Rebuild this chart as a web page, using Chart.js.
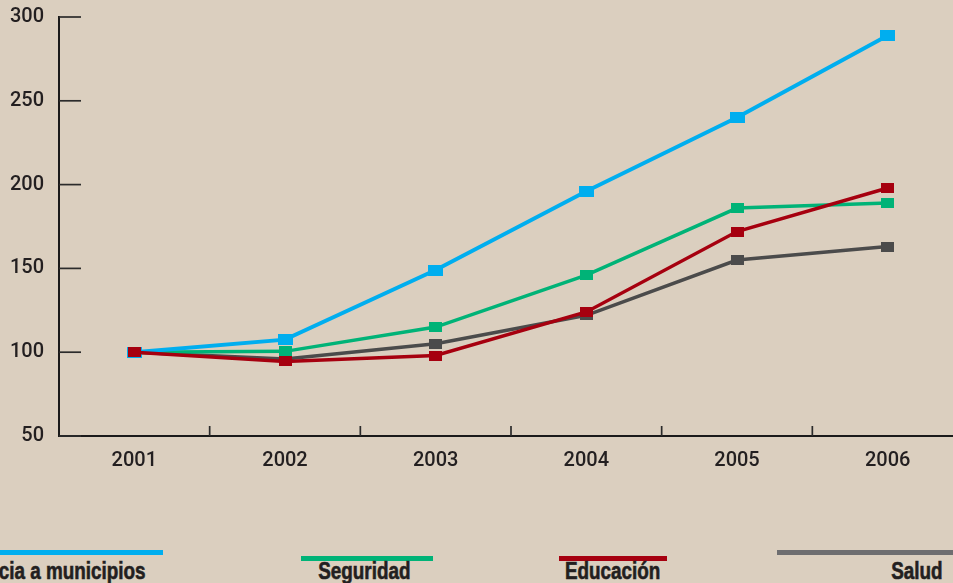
<!DOCTYPE html>
<html lang="es">
<head>
<meta charset="utf-8">
<script src="https://cdn.jsdelivr.net/npm/chart.js@4.4.1/dist/chart.umd.min.js"></script>
<style>
  html, body {
    margin: 0;
    padding: 0;
    width: 953px;
    height: 583px;
    overflow: hidden;
    background: #dbcfbf;
  }
  #wrap {
    position: absolute;
    left: 0;
    top: 0;
    width: 973px;
    height: 480px;
  }
  .key-line {
    position: absolute;
    height: 5px;
  }
  .key-label {
    position: absolute;
    white-space: nowrap;
    font-family: "Liberation Sans", Arial, sans-serif;
    font-weight: bold;
    font-size: 23px;
    line-height: 1;
    color: #231f20;
    -webkit-text-stroke: 0.6px #231f20;
    transform: scaleX(0.82);
    transform-origin: right top;
  }
</style>
</head>
<body>
<div id="wrap"><canvas id="chart"></canvas></div>
<div id="key"></div>

<script>
const years = ["2001", "2002", "2003", "2004", "2005", "2006"];
const yTicks = [50, 100, 150, 200, 250, 300];

const seriesNames = ["Transferencia a municipios", "Seguridad", "Educación", "Salud"];
const transferencias = [100, 107.5, 149, 196, 240, 289];
const seguridad = [100, 100.5, 115, 146, 186, 189];
const educacion = [100, 94.5, 98, 124, 172, 198];
const salud = [100, 96, 105, 122, 155, 163];

const lineColors = ["#00aeef", "#00b377", "#a6000f", "#4b4b4b"];
const keyColors = ["#00aeef", "#00b377", "#a6000f", "#6e6e70"];

// legend placement under the plot: line box and right edge of label
const keyLayout = [
  { x0: -10, x1: 163, y: 550, labelRight: 146 },
  { x0: 301, x1: 433, y: 556, labelRight: 410 },
  { x0: 559, x1: 667, y: 556, labelRight: 660 },
  { x0: 777, x1: 960, y: 550, labelRight: 943 }
];

// flat rectangular markers
function marker(color, w, h) {
  const c = document.createElement("canvas");
  c.width = w;
  c.height = h;
  const g = c.getContext("2d");
  g.fillStyle = color;
  g.fillRect(0, 0, w, h);
  return c;
}

function makeSet(i, values, order, width, mw, mh) {
  return {
    label: seriesNames[i],
    data: values,
    borderColor: lineColors[i],
    backgroundColor: lineColors[i],
    borderWidth: width,
    pointStyle: marker(lineColors[i], mw, mh),
    pointRadius: 6,
    tension: 0,
    fill: false,
    order: order
  };
}

// inward tick marks on both axes
const innerTicks = {
  id: "innerTicks",
  beforeDatasetsDraw(chart) {
    const { ctx, chartArea, scales } = chart;
    ctx.save();
    ctx.strokeStyle = "#2b2b2b";
    ctx.lineWidth = 1.7;
    scales.y.ticks.forEach((t) => {
      const py = scales.y.getPixelForValue(t.value);
      ctx.beginPath();
      ctx.moveTo(chartArea.left, py);
      ctx.lineTo(chartArea.left + 22, py);
      ctx.stroke();
    });
    for (let i = 0; i < years.length - 1; i++) {
      const px = (scales.x.getPixelForTick(i) + scales.x.getPixelForTick(i + 1)) / 2;
      ctx.beginPath();
      ctx.moveTo(px, chartArea.bottom);
      ctx.lineTo(px, chartArea.bottom - 10);
      ctx.stroke();
    }
    ctx.restore();
  }
};

const tickFont = { family: "Roboto, 'Open Sans', sans-serif", size: 20, weight: "500" };

new Chart(document.getElementById("chart"), {
  type: "line",
  data: {
    labels: years,
    datasets: [
      makeSet(0, transferencias, 2, 4, 15, 11),
      makeSet(1, seguridad, 3, 3.5, 13, 10),
      makeSet(2, educacion, 1, 3.5, 13, 10),
      makeSet(3, salud, 4, 3.5, 13, 10)
    ]
  },
  options: {
    responsive: true,
    maintainAspectRatio: false,
    animation: false,
    layout: { padding: { top: 17, right: 3, left: 0, bottom: 0 } },
    plugins: {
      legend: { display: false },
      tooltip: { enabled: false }
    },
    scales: {
      x: {
        offset: true,
        grid: { display: false, drawTicks: false },
        border: { display: true, color: "#1a1a1a", width: 2 },
        ticks: { color: "#231f20", padding: 13, font: tickFont },
        afterFit(scale) {
          scale.height = 44;
          scale.paddingLeft = 0;
          scale.paddingRight = 0;
        }
      },
      y: {
        min: 50,
        max: 300,
        afterBuildTicks(scale) {
          scale.ticks = yTicks.map((v) => ({ value: v }));
        },
        grid: { display: false, drawTicks: false },
        border: { display: true, color: "#1a1a1a", width: 2 },
        ticks: { color: "#231f20", padding: 15, font: tickFont },
        afterFit(scale) {
          scale.width = 59;
          scale.paddingTop = 0;
          scale.paddingBottom = 0;
        }
      }
    }
  },
  plugins: [innerTicks]
});

// legend drawn as plain elements
const key = document.getElementById("key");
seriesNames.forEach((name, i) => {
  const k = keyLayout[i];
  const line = document.createElement("div");
  line.className = "key-line";
  line.style.left = k.x0 + "px";
  line.style.width = (k.x1 - k.x0) + "px";
  line.style.top = k.y + "px";
  line.style.background = keyColors[i];
  key.appendChild(line);

  const label = document.createElement("div");
  label.className = "key-label";
  label.textContent = name;
  label.style.right = (953 - k.labelRight) + "px";
  label.style.top = "560px";
  key.appendChild(label);
});
</script>
</body>
</html>
